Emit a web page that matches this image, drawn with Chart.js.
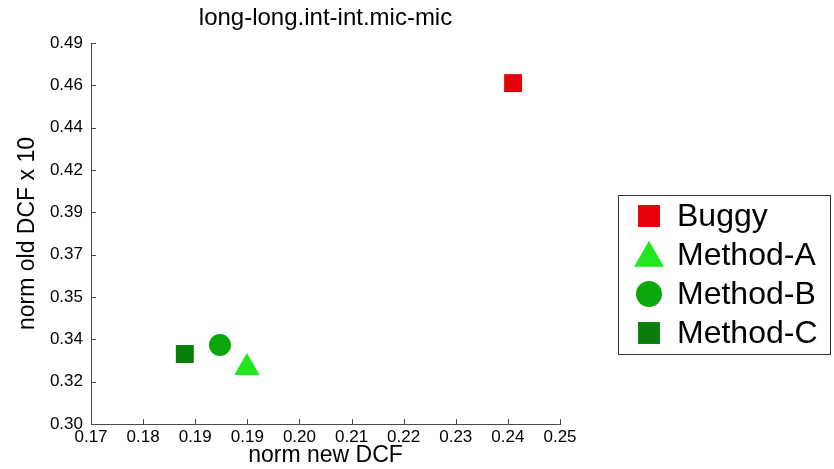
<!DOCTYPE html>
<html>
<head>
<meta charset="utf-8">
<script src="https://cdn.jsdelivr.net/npm/chart.js@4.4.1/dist/chart.umd.min.js"></script>
<style>
  html, body { margin: 0; padding: 0; background: #ffffff; }
  #wrap { width: 834px; height: 469px; position: relative; }
</style>
</head>
<body>
<div id="wrap"><canvas id="c" width="834" height="469"></canvas></div>
<script>
// ---- data ----
const seriesNames = ['Buggy', 'Method-A', 'Method-B', 'Method-C'];
const seriesX = [0.2420, 0.1966, 0.1920, 0.1860];
const seriesY = [0.4700, 0.3281, 0.3394, 0.3349];
const xTickLabels = ['0.17','0.18','0.19','0.19','0.20','0.21','0.22','0.23','0.24','0.25'];
const yTickLabels = ['0.30','0.32','0.34','0.35','0.37','0.39','0.42','0.44','0.46','0.49'];
const xRange = [0.17, 0.25];
const yRange = [0.30, 0.49];
const titleText = 'long-long.int-int.mic-mic';
const xAxisTitle = 'norm new DCF';
const yAxisTitle = 'norm old DCF x 10';

// ---- styles ----
const colors = ['#e6000c', '#22e622', '#0aa60a', '#0a7d0a'];
const styles = ['rect', 'triangle', 'circle', 'rect'];
const plotRadius = [12.7, 14.7, 11, 12.7];
const legendRadius = [15.5, 17.3, 13, 15.5];
const FONT = "'Liberation Sans', Arial, Helvetica, sans-serif";

function evenTicks(range, n) {
  const out = [];
  for (let i = 0; i < n; i++) out.push({ value: range[0] + (range[1] - range[0]) * i / (n - 1) });
  return out;
}

const datasets = seriesNames.map((name, i) => ({
  label: name,
  data: [{ x: seriesX[i], y: seriesY[i] }],
  pointStyle: styles[i],
  pointRadius: plotRadius[i],
  pointHoverRadius: plotRadius[i],
  pointBackgroundColor: colors[i],
  pointBorderColor: colors[i],
  pointBorderWidth: 0,
  backgroundColor: colors[i],
  borderColor: colors[i]
}));

function drawMarker(ctx, style, r, x, y, color) {
  ctx.save();
  ctx.fillStyle = color;
  ctx.beginPath();
  if (style === 'rect') {
    const s = Math.SQRT1_2 * r;
    ctx.rect(x - s, y - s, 2 * s, 2 * s);
  } else if (style === 'triangle') {
    let rad = 0;
    ctx.moveTo(x + Math.sin(rad) * r, y - Math.cos(rad) * r);
    rad += 2 * Math.PI / 3;
    ctx.lineTo(x + Math.sin(rad) * r, y - Math.cos(rad) * r);
    rad += 2 * Math.PI / 3;
    ctx.lineTo(x + Math.sin(rad) * r, y - Math.cos(rad) * r);
    ctx.closePath();
  } else {
    ctx.arc(x, y, r, 0, Math.PI * 2);
  }
  ctx.fill();
  ctx.restore();
}

const innerTicks = {
  id: 'innerTicks',
  afterDatasetsDraw(chart) {
    const ctx = chart.ctx;
    const xs = chart.scales.x, ys = chart.scales.y;
    const area = chart.chartArea;
    ctx.save();
    ctx.strokeStyle = '#4a4a4a';
    ctx.lineWidth = 1;
    ctx.beginPath();
    xs.ticks.forEach((t, i) => {
      const px = Math.round(xs.getPixelForTick(i)) + 0.5;
      ctx.moveTo(px, area.bottom);
      ctx.lineTo(px, area.bottom - 5);
    });
    ys.ticks.forEach((t, i) => {
      const py = Math.round(ys.getPixelForTick(i)) + 0.5;
      ctx.moveTo(area.left, py);
      ctx.lineTo(area.left + 5, py);
    });
    ctx.stroke();
    ctx.restore();
  }
};

const boxLegend = {
  id: 'boxLegend',
  afterDraw(chart) {
    const ctx = chart.ctx;
    const bx = 618.5, by = 195.5, bw = 212, bh = 159;
    ctx.save();
    ctx.fillStyle = '#ffffff';
    ctx.fillRect(bx, by, bw, bh);
    ctx.strokeStyle = '#333333';
    ctx.lineWidth = 1;
    ctx.strokeRect(bx, by, bw, bh);
    const rowY = [216, 255, 294, 333];
    ctx.font = '32px ' + FONT;
    ctx.fillStyle = '#000000';
    ctx.textBaseline = 'middle';
    ctx.textAlign = 'left';
    chart.data.datasets.forEach((ds, i) => {
      const yOff = ds.pointStyle === 'triangle' ? 3 : 0;
      drawMarker(ctx, ds.pointStyle, legendRadius[i], 649, rowY[i] + yOff, ds.pointBackgroundColor);
      ctx.fillText(ds.label, 677, rowY[i] + 1);
    });
    ctx.restore();
  }
};

new Chart(document.getElementById('c'), {
  type: 'scatter',
  data: { datasets },
  options: {
    responsive: false,
    animation: false,
    devicePixelRatio: 1,
    layout: { padding: { left: 0, right: 274, top: 0, bottom: 0 } },
    plugins: {
      legend: { display: false },
      tooltip: { enabled: false },
      title: {
        display: true,
        text: titleText,
        fullSize: false,
        color: '#000000',
        font: { family: FONT, size: 24, weight: 'normal', lineHeight: 1.2 },
        padding: { top: 4, bottom: 10.2 }
      }
    },
    scales: {
      x: {
        type: 'linear',
        min: xRange[0], max: xRange[1],
        afterBuildTicks: (s) => { s.ticks = evenTicks(xRange, xTickLabels.length); },
        afterFit: (s) => { s.height = 45; },
        grid: { display: false, drawTicks: false },
        border: { display: true, color: '#4a4a4a', width: 1 },
        ticks: {
          callback: (v, i) => xTickLabels[i],
          color: '#000000',
          padding: 3,
          maxRotation: 0, autoSkip: false,
          font: { family: FONT, size: 17 }
        },
        title: {
          display: true, text: xAxisTitle, color: '#000000',
          font: { family: FONT, size: 23, lineHeight: 1.2 },
          padding: { top: 0, bottom: 0 }
        }
      },
      y: {
        type: 'linear',
        min: yRange[0], max: yRange[1],
        afterBuildTicks: (s) => { s.ticks = evenTicks(yRange, yTickLabels.length); },
        afterFit: (s) => { s.width = 91; },
        grid: { display: false, drawTicks: false },
        border: { display: true, color: '#4a4a4a', width: 1 },
        ticks: {
          callback: (v, i) => yTickLabels[i],
          color: '#000000',
          padding: 8,
          autoSkip: false,
          font: { family: FONT, size: 17 }
        },
        title: {
          display: true, text: yAxisTitle, color: '#000000',
          font: { family: FONT, size: 23, lineHeight: 1.2 },
          padding: { top: 14, bottom: 0 }
        }
      }
    }
  },
  plugins: [innerTicks, boxLegend]
});
</script>
</body>
</html>
